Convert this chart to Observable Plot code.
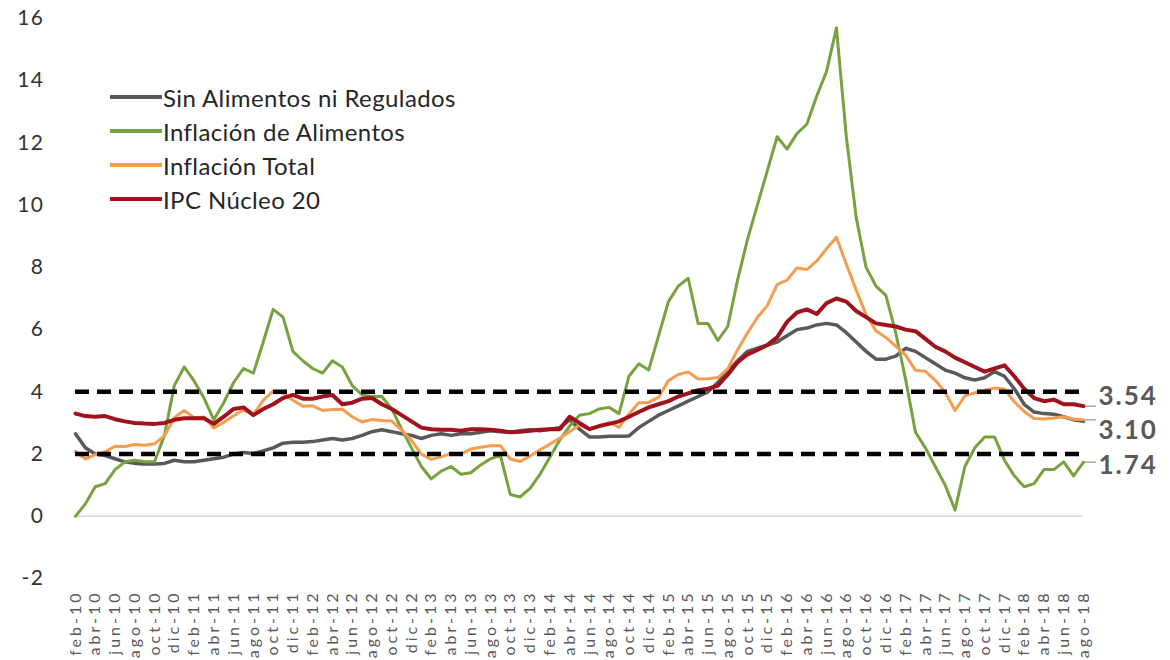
<!DOCTYPE html>
<html><head><meta charset="utf-8">
<script src="https://cdn.jsdelivr.net/npm/d3@7"></script>
<script src="https://cdn.jsdelivr.net/npm/@observablehq/plot@0.6"></script>
<style>
body{margin:0;background:#fff;font-family:Lato,"Liberation Sans",sans-serif;}
#wrap{position:relative;width:1170px;height:660px;overflow:hidden;}
#legend{position:absolute;left:110px;top:80px;font-size:24px;letter-spacing:0.4px;color:#262626;}
.row{display:flex;align-items:center;height:34px;}
.sw{width:52px;height:4px;margin-right:1px;}
svg [aria-label="x-axis tick label"] text{letter-spacing:3px;}
svg [aria-label="y-axis tick label"] text{letter-spacing:1.5px;}
svg [aria-label="text"] text{letter-spacing:2px;}
</style></head><body>
<div id="wrap"><div id="chart"></div><div id="legend"></div></div>
<script>
const tickLabels = [
 "feb-10","abr-10","jun-10","ago-10","oct-10","dic-10",
 "feb-11","abr-11","jun-11","ago-11","oct-11","dic-11",
 "feb-12","abr-12","jun-12","ago-12","oct-12","dic-12",
 "feb-13","abr-13","jun-13","ago-13","oct-13","dic-13",
 "feb-14","abr-14","jun-14","ago-14","oct-14","dic-14",
 "feb-15","abr-15","jun-15","ago-15","oct-15","dic-15",
 "feb-16","abr-16","jun-16","ago-16","oct-16","dic-16",
 "feb-17","abr-17","jun-17","ago-17","oct-17","dic-17",
 "feb-18","abr-18","jun-18","ago-18"];

// monthly values, feb-10 ... ago-18
const sinAlimentos = [
 2.65,2.2,2.0,1.95,1.85,1.75,1.7,1.68,1.68,1.7,1.8,
 1.75,1.75,1.8,1.85,1.9,2.0,2.05,2.02,2.1,2.2,2.35,2.38,
 2.38,2.4,2.45,2.5,2.45,2.5,2.6,2.72,2.78,2.72,2.65,2.6,
 2.5,2.6,2.65,2.6,2.65,2.65,2.7,2.75,2.72,2.7,2.75,2.78,
 2.75,2.8,2.85,3.1,2.8,2.55,2.55,2.57,2.57,2.58,2.85,3.05,
 3.25,3.4,3.55,3.7,3.85,4.0,4.3,4.65,5.0,5.3,5.4,5.5,
 5.6,5.8,6.0,6.05,6.15,6.2,6.15,5.9,5.6,5.3,5.05,5.05,
 5.15,5.4,5.3,5.1,4.9,4.7,4.6,4.45,4.38,4.45,4.65,4.5,
 4.1,3.6,3.35,3.3,3.28,3.2,3.1,3.05];
const alimentos = [
 0.0,0.4,0.95,1.05,1.5,1.75,1.8,1.75,1.75,2.6,4.2,
 4.8,4.35,3.8,3.1,3.65,4.3,4.75,4.6,5.6,6.65,6.4,5.3,
 5.0,4.75,4.6,5.0,4.8,4.2,3.9,3.85,3.85,3.45,2.8,2.2,
 1.6,1.2,1.45,1.6,1.35,1.4,1.65,1.85,1.95,0.7,0.62,0.9,
 1.35,1.9,2.45,2.9,3.25,3.3,3.45,3.5,3.3,4.5,4.9,4.7,
 5.8,6.9,7.4,7.65,6.2,6.2,5.65,6.1,7.6,8.9,10.0,11.1,
 12.2,11.8,12.3,12.6,13.5,14.3,15.7,12.2,9.6,8.0,7.4,7.1,
 5.9,4.4,2.7,2.2,1.6,1.0,0.2,1.6,2.2,2.55,2.55,1.8,
 1.3,0.95,1.05,1.5,1.5,1.75,1.3,1.74];
const total = [
 2.09,1.84,1.98,2.07,2.25,2.24,2.31,2.28,2.33,2.59,3.17,
 3.40,3.17,3.19,2.84,3.02,3.23,3.42,3.27,3.73,4.02,3.96,3.73,
 3.54,3.55,3.40,3.43,3.44,3.20,3.03,3.11,3.08,3.06,2.77,2.44,
 2.00,1.83,1.91,2.02,2.00,2.16,2.22,2.27,2.27,1.84,1.76,1.94,
 2.13,2.32,2.51,2.72,2.93,2.79,2.89,3.02,2.86,3.29,3.65,3.66,
 3.82,4.36,4.56,4.64,4.41,4.42,4.46,4.74,5.35,5.89,6.39,6.77,
 7.45,7.59,7.98,7.93,8.20,8.60,8.97,8.10,7.27,6.48,5.96,5.75,
 5.47,5.18,4.69,4.66,4.37,3.99,3.40,3.87,3.97,4.05,4.12,4.09,
 3.68,3.37,3.14,3.13,3.16,3.20,3.12,3.10];
const nucleo20 = [
 3.3,3.22,3.2,3.22,3.12,3.05,3.0,2.98,2.97,3.0,3.1,
 3.15,3.15,3.15,2.97,3.2,3.45,3.5,3.25,3.45,3.6,3.8,3.9,
 3.78,3.78,3.85,3.9,3.6,3.65,3.78,3.8,3.6,3.45,3.25,3.05,
 2.85,2.8,2.78,2.78,2.75,2.8,2.8,2.78,2.75,2.7,2.72,2.75,
 2.78,2.8,2.8,3.2,3.0,2.8,2.9,2.97,3.05,3.2,3.35,3.5,
 3.6,3.7,3.85,3.95,4.05,4.1,4.2,4.55,4.95,5.2,5.35,5.5,
 5.75,6.25,6.55,6.65,6.5,6.85,7.0,6.9,6.6,6.4,6.2,6.15,
 6.1,6.0,5.95,5.7,5.45,5.3,5.1,4.95,4.8,4.65,4.75,4.85,
 4.5,4.1,3.8,3.7,3.75,3.6,3.6,3.54];

const seriesNames = ["Sin Alimentos ni Regulados","Inflación de Alimentos","Inflación Total","IPC Núcleo 20"];
const seriesValues = [sinAlimentos, alimentos, total, nucleo20];
const seriesColors = ["#595959","#77a23f","#f59d4f","#a0121c"];
const seriesWidths = [3.5, 3, 3, 4];
const endLabels = [3.54, 3.10, 1.74];
const endLabelDy = [-9, 11, 4];
const targetBand = [2, 4];

const rows = seriesValues.flatMap((arr, s) => arr.map((v, i) => ({i, v, s})));

const lineMarks = seriesNames.map((name, s) =>
  Plot.line(rows.filter(d => d.s === s), {x: "i", y: "v", stroke: seriesColors[s], strokeWidth: seriesWidths[s], strokeLinejoin: "round", strokeLinecap: "round"}));

const chart = Plot.plot({
  width: 1170, height: 660,
  marginLeft: 75, marginRight: 87, marginTop: 18, marginBottom: 82,
  style: {fontFamily: "Lato, 'Liberation Sans', sans-serif", background: "#fff"},
  x: {domain: [0, 102]},
  y: {domain: [-2, 16]},
  marks: [
    Plot.ruleY([0], {stroke: "#d9d9d9", strokeWidth: 1.5}),
    ...lineMarks,
    Plot.ruleY(targetBand, {stroke: "#000", strokeWidth: 4.5, strokeDasharray: "14,8"}),
    Plot.axisY({ticks: d3.range(-2, 17, 2), tickFormat: d => String(d), tickSize: 0, tickPadding: 31, fontSize: 21, color: "#333", label: null}),
    Plot.axisX({ticks: d3.range(0, 103, 2), tickFormat: i => tickLabels[i / 2], tickRotate: -90, tickSize: 0, tickPadding: 12, fontSize: 16, color: "#595959", label: null}),
    ...endLabels.map((v, k) => Plot.ruleY([v], {x1: 102.2, x2: 103.3, stroke: "#a6a6a6", strokeWidth: 1.5})),
    ...endLabels.map((v, k) => Plot.text([v], {x: 102, y: d => d, text: d => d.toFixed(2), dx: 15, dy: endLabelDy[k], textAnchor: "start", fontSize: 26, fontWeight: "bold", fill: "#595959"}))
  ]
});
document.getElementById("chart").appendChild(chart);

const legend = document.getElementById("legend");
seriesNames.forEach((name, s) => {
  const row = document.createElement("div");
  row.className = "row";
  row.innerHTML = `<span class="sw" style="background:${seriesColors[s]}"></span><span>${name}</span>`;
  legend.appendChild(row);
});
</script>
</body></html>
